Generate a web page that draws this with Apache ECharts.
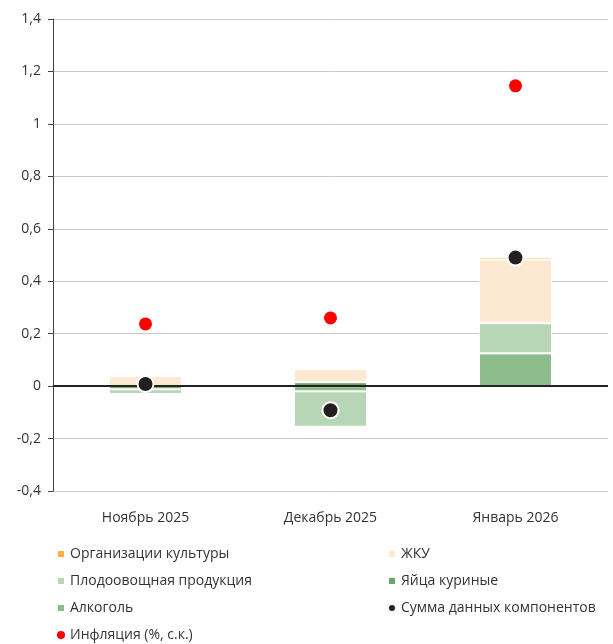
<!DOCTYPE html>
<html>
<head>
<meta charset="utf-8">
<script src="https://cdn.jsdelivr.net/npm/echarts@6/dist/echarts.min.js"></script>
<style>
  html, body { margin: 0; padding: 0; background: #fff; }
  #chart { width: 613px; height: 644px; }
</style>
</head>
<body>
<div id="chart"></div>
<script>
// категории и данные
const months = ['Ноябрь 2025', 'Декабрь 2025', 'Январь 2026']
const alcohol = [0, -0.02, 0.125]
const eggs = [-0.012, 0.015, 0]
const fruitVeg = [-0.018, -0.135, 0.115]
const housing = [0.038, 0.05, 0.243]
const culture = [0, 0, 0.009]
const componentsSum = [0.008, -0.092, 0.49]
const inflation = [0.237, 0.26, 1.145]

const font = '"Open Sans", "Noto Sans", sans-serif'

const chart = echarts.init(document.getElementById('chart'))

const barSeries = (name, data, color) => ({
  name,
  type: 'bar',
  stack: 'total',
  barWidth: 73,
  data,
  itemStyle: { color, borderColor: '#fff', borderWidth: 1 }
})

const legendBase = {
  orient: 'vertical',
  top: 546,
  height: 100,
  padding: 0,
  itemWidth: 8,
  itemHeight: 8,
  itemGap: 11,
  textStyle: { fontSize: 14, color: '#333', lineHeight: 16, fontFamily: font }
}

const option = {
  animation: false,
  textStyle: { fontFamily: font },
  grid: { left: 53, right: 5, top: 19, bottom: 153 },
  legend: [
    {
      ...legendBase,
      left: 56,
      data: [
        { name: 'Организации культуры', icon: 'rect' },
        { name: 'Плодоовощная продукция', icon: 'rect' },
        { name: 'Алкоголь', icon: 'rect' },
        { name: 'Инфляция (%, с.к.)', icon: 'circle' }
      ]
    },
    {
      ...legendBase,
      left: 387,
      data: [
        { name: 'ЖКУ', icon: 'rect' },
        { name: 'Яйца куриные', icon: 'rect' },
        { name: 'Сумма данных компонентов', icon: 'circle' }
      ]
    }
  ],
  xAxis: {
    type: 'category',
    data: months,
    axisLine: { show: false },
    axisTick: { show: false },
    axisLabel: { color: '#333', fontSize: 14, margin: 20 }
  },
  yAxis: {
    type: 'value',
    min: -0.4,
    max: 1.4,
    interval: 0.2,
    axisLine: { show: true, lineStyle: { color: '#444', width: 1 } },
    axisTick: { show: true, length: 5, lineStyle: { color: '#444' } },
    splitLine: { lineStyle: { color: '#c8c8c8', width: 1 } },
    axisLabel: {
      color: '#333',
      fontSize: 14,
      margin: 12,
      formatter: v => String(Math.round(v * 10) / 10).replace('.', ',')
    }
  },
  series: [
    barSeries('Алкоголь', alcohol, '#8cbc8c'),
    barSeries('Яйца куриные', eggs, '#6aa86a'),
    barSeries('Плодоовощная продукция', fruitVeg, '#b6d6b6'),
    barSeries('ЖКУ', housing, '#fde9d1'),
    barSeries('Организации культуры', culture, '#fbb040'),
    {
      name: 'Сумма данных компонентов',
      type: 'scatter',
      data: componentsSum,
      symbolSize: 16,
      itemStyle: { color: '#231f20', borderColor: '#fff', borderWidth: 2, opacity: 1 },
      z: 5,
      markLine: {
        silent: true,
        symbol: 'none',
        label: { show: false },
        lineStyle: { color: '#222', width: 2, type: 'solid' },
        data: [{ yAxis: 0 }]
      }
    },
    {
      name: 'Инфляция (%, с.к.)',
      type: 'scatter',
      data: inflation,
      symbolSize: 13,
      itemStyle: { color: '#ff0000', opacity: 1 },
      z: 5
    }
  ]
}

chart.setOption(option)
</script>
</body>
</html>
